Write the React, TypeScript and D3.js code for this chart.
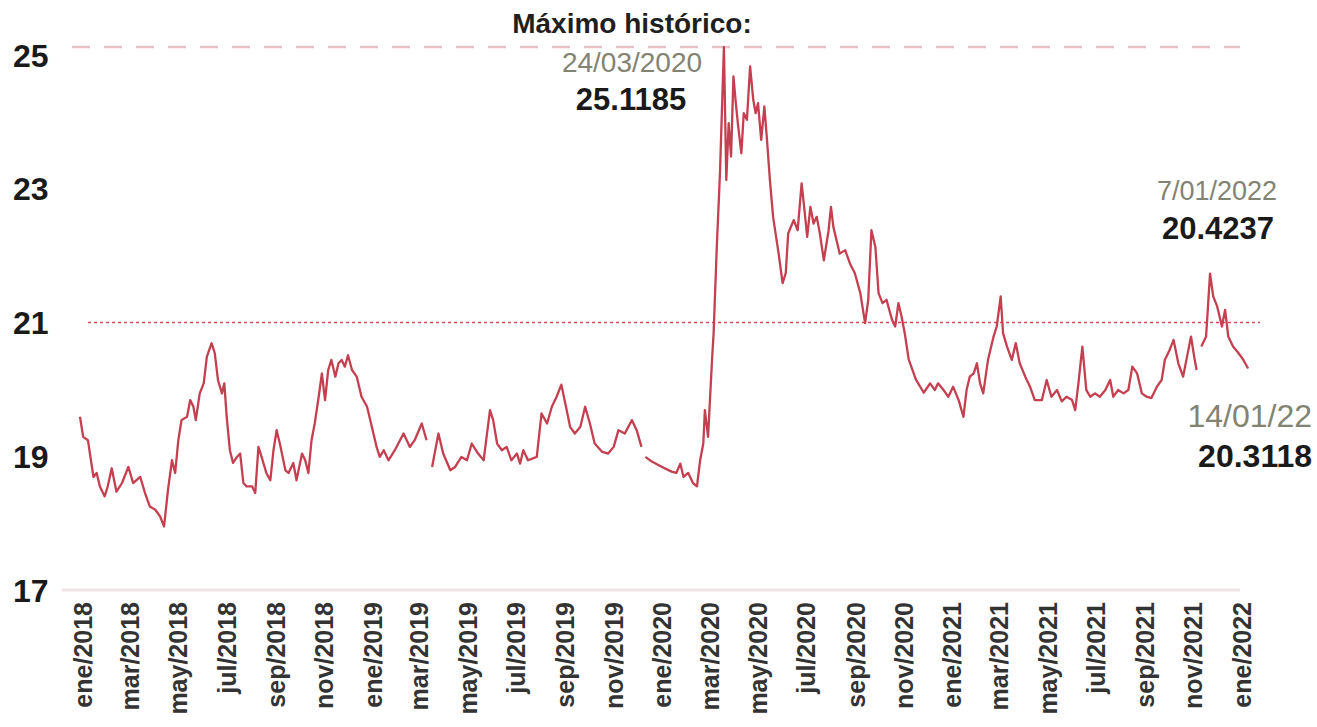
import React from "react";
import * as d3 from "d3";

// ---- DATA ----
const xTickLabels = [
  "ene/2018","mar/2018","may/2018","jul/2018","sep/2018","nov/2018",
  "ene/2019","mar/2019","may/2019","jul/2019","sep/2019","nov/2019",
  "ene/2020","mar/2020","may/2020","jul/2020","sep/2020","nov/2020",
  "ene/2021","mar/2021","may/2021","jul/2021","sep/2021","nov/2021",
  "ene/2022",
];
const yTicks = [17, 19, 21, 23, 25];
const maxValue = 25.1185;
const refValue = 21;

// USD/MXN (date, value); null = gap in the series
const fixSeries: [string, number | null][] = [
  ["2018-01-02",19.59],["2018-01-06",19.29],["2018-01-12",19.24],["2018-01-19",18.69],
  ["2018-01-23",18.75],["2018-01-27",18.55],["2018-02-02",18.40],["2018-02-06",18.55],
  ["2018-02-11",18.82],["2018-02-17",18.47],["2018-02-24",18.60],["2018-03-04",18.84],
  ["2018-03-10",18.60],["2018-03-19",18.69],["2018-03-25",18.45],["2018-03-31",18.25],
  ["2018-04-07",18.20],["2018-04-13",18.10],["2018-04-18",17.95],["2018-04-23",18.50],
  ["2018-04-28",18.94],["2018-05-02",18.75],["2018-05-06",19.24],["2018-05-10",19.54],
  ["2018-05-17",19.59],["2018-05-21",19.84],["2018-05-25",19.74],["2018-05-28",19.54],
  ["2018-06-02",19.94],["2018-06-07",20.09],["2018-06-11",20.49],["2018-06-17",20.69],
  ["2018-06-21",20.54],["2018-06-25",20.14],["2018-06-30",19.94],["2018-07-03",20.09],
  ["2018-07-06",19.59],["2018-07-10",19.09],["2018-07-14",18.90],["2018-07-19",18.99],
  ["2018-07-23",19.04],["2018-07-27",18.60],["2018-07-31",18.55],["2018-08-07",18.55],
  ["2018-08-11",18.45],["2018-08-15",19.14],["2018-08-19",18.99],["2018-08-25",18.75],
  ["2018-08-30",18.64],["2018-09-03",19.09],["2018-09-07",19.39],["2018-09-11",19.19],
  ["2018-09-18",18.79],["2018-09-22",18.75],["2018-09-28",18.90],["2018-10-02",18.64],
  ["2018-10-09",19.04],["2018-10-13",18.94],["2018-10-17",18.75],["2018-10-21",19.24],
  ["2018-10-25",19.49],["2018-10-30",19.89],["2018-11-03",20.24],["2018-11-07",19.84],
  ["2018-11-11",20.29],["2018-11-15",20.44],["2018-11-20",20.19],["2018-11-24",20.39],
  ["2018-11-28",20.44],["2018-12-02",20.34],["2018-12-06",20.51],["2018-12-11",20.29],
  ["2018-12-17",20.19],["2018-12-23",19.89],["2018-12-30",19.74],["2019-01-05",19.44],
  ["2019-01-11",19.14],["2019-01-15",18.99],["2019-01-20",19.09],["2019-01-26",18.94],
  ["2019-02-03",19.09],["2019-02-14",19.34],["2019-02-22",19.14],["2019-02-28",19.24],
  ["2019-03-09",19.49],["2019-03-15",19.24],["2019-03-16",null],
  ["2019-03-22",18.84],["2019-03-30",19.34],["2019-04-05",19.04],["2019-04-14",18.79],
  ["2019-04-20",18.84],["2019-04-28",18.99],["2019-05-05",18.94],["2019-05-11",19.19],
  ["2019-05-19",19.04],["2019-05-26",18.94],["2019-06-03",19.69],["2019-06-07",19.54],
  ["2019-06-12",19.19],["2019-06-18",19.09],["2019-06-24",19.14],["2019-06-30",18.94],
  ["2019-07-07",19.04],["2019-07-11",18.89],["2019-07-15",19.09],["2019-07-21",18.94],
  ["2019-08-01",18.99],["2019-08-07",19.64],["2019-08-14",19.49],["2019-08-20",19.74],
  ["2019-08-26",19.89],["2019-09-01",20.07],["2019-09-06",19.79],["2019-09-12",19.44],
  ["2019-09-18",19.34],["2019-09-25",19.44],["2019-10-01",19.74],["2019-10-07",19.49],
  ["2019-10-13",19.19],["2019-10-22",19.07],["2019-10-30",19.04],["2019-11-06",19.14],
  ["2019-11-12",19.39],["2019-11-20",19.34],["2019-11-29",19.54],["2019-12-05",19.39],
  ["2019-12-11",19.14],["2019-12-12",null],
  ["2019-12-16",18.99],["2019-12-24",18.92],["2020-01-06",18.84],["2020-01-18",18.77],
  ["2020-01-24",18.75],["2020-01-29",18.89],["2020-02-02",18.69],["2020-02-08",18.75],
  ["2020-02-14",18.60],["2020-02-19",18.55],["2020-02-23",18.94],["2020-02-27",19.19],
  ["2020-02-29",19.69],["2020-03-04",19.29],["2020-03-09",20.44],["2020-03-11",20.84],
  ["2020-03-15",22.13],["2020-03-19",23.23],["2020-03-24",25.1185],["2020-03-27",23.13],
  ["2020-03-30",23.98],["2020-04-02",23.48],["2020-04-05",24.68],["2020-04-08",24.28],
  ["2020-04-11",23.93],["2020-04-15",23.53],["2020-04-18",24.13],["2020-04-22",24.03],
  ["2020-04-26",24.83],["2020-04-30",24.33],["2020-05-03",24.13],["2020-05-06",24.28],
  ["2020-05-10",23.73],["2020-05-14",24.23],["2020-05-17",23.78],["2020-05-21",23.13],
  ["2020-05-25",22.58],["2020-06-01",22.03],["2020-06-06",21.59],["2020-06-10",21.74],
  ["2020-06-13",22.33],["2020-06-20",22.53],["2020-06-25",22.38],["2020-06-30",23.08],
  ["2020-07-04",22.63],["2020-07-07",22.28],["2020-07-11",22.73],["2020-07-15",22.48],
  ["2020-07-19",22.58],["2020-07-23",22.33],["2020-07-28",21.93],["2020-08-03",22.38],
  ["2020-08-06",22.73],["2020-08-09",22.43],["2020-08-13",22.23],["2020-08-17",22.03],
  ["2020-08-24",22.08],["2020-08-30",21.88],["2020-09-05",21.74],["2020-09-12",21.44],
  ["2020-09-18",20.99],["2020-09-22",21.34],["2020-09-26",22.38],["2020-10-01",22.13],
  ["2020-10-05",21.44],["2020-10-10",21.29],["2020-10-15",21.34],["2020-10-22",21.04],
  ["2020-10-26",20.94],["2020-10-30",21.29],["2020-11-03",21.09],["2020-11-07",20.84],
  ["2020-11-12",20.45],["2020-11-21",20.15],["2020-12-01",19.95],["2020-12-09",20.09],
  ["2020-12-15",19.99],["2020-12-19",20.09],["2020-12-26",19.99],["2021-01-01",19.89],
  ["2021-01-07",20.04],["2021-01-14",19.84],["2021-01-20",19.59],["2021-01-24",19.99],
  ["2021-01-28",20.19],["2021-02-02",20.24],["2021-02-06",20.39],["2021-02-10",20.09],
  ["2021-02-14",19.94],["2021-02-20",20.44],["2021-02-27",20.79],["2021-03-03",20.94],
  ["2021-03-08",21.39],["2021-03-11",20.84],["2021-03-16",20.64],["2021-03-22",20.44],
  ["2021-03-27",20.69],["2021-04-01",20.39],["2021-04-08",20.19],["2021-04-14",20.04],
  ["2021-04-20",19.84],["2021-04-29",19.84],["2021-05-05",20.14],["2021-05-11",19.89],
  ["2021-05-18",19.99],["2021-05-24",19.82],["2021-05-30",19.89],["2021-06-06",19.84],
  ["2021-06-10",19.69],["2021-06-14",20.09],["2021-06-19",20.64],["2021-06-24",19.99],
  ["2021-06-29",19.89],["2021-07-05",19.94],["2021-07-11",19.89],["2021-07-18",19.99],
  ["2021-07-24",20.14],["2021-07-28",19.89],["2021-08-03",19.99],["2021-08-10",19.94],
  ["2021-08-16",19.99],["2021-08-21",20.34],["2021-08-27",20.24],["2021-09-02",19.94],
  ["2021-09-08",19.89],["2021-09-14",19.87],["2021-09-21",20.04],["2021-09-27",20.14],
  ["2021-10-01",20.44],["2021-10-07",20.59],["2021-10-12",20.74],["2021-10-18",20.39],
  ["2021-10-24",20.19],["2021-10-29",20.49],["2021-11-03",20.79],["2021-11-07",20.49],
  ["2021-11-10",20.29],["2021-11-11",null],
  ["2021-11-16",20.64],["2021-11-22",20.79],["2021-11-27",21.73],["2021-12-01",21.39],
  ["2021-12-06",21.24],["2021-12-12",20.94],["2021-12-16",21.19],["2021-12-20",20.79],
  ["2021-12-26",20.64],["2022-01-02",20.54],["2022-01-08",20.44],["2022-01-14",20.3118],
];

const monthIndex: Record<string, number> = {
  ene: 0, feb: 1, mar: 2, abr: 3, may: 4, jun: 5, jul: 6, ago: 7, sep: 8, oct: 9, nov: 10, dic: 11,
};

const W = 1317;
const H = 727;
const FONT = "'Liberation Sans', Arial, sans-serif";

type Pt = { date: Date; value: number | null };

export default function App() {
  const parse = d3.timeParse("%Y-%m-%d");
  const points: Pt[] = fixSeries.map(([d, v]) => ({ date: parse(d) as Date, value: v }));

  const x = d3
    .scaleTime()
    .domain([new Date(2018, 0, 1), new Date(2022, 0, 1)])
    .range([79.2, 1237.8]);
  const y = d3.scaleLinear().domain([17, 25]).range([590, 55]);

  const line = d3
    .line<Pt>()
    .defined((d) => d.value !== null)
    .x((d) => x(d.date))
    .y((d) => y(d.value as number))
    .curve(d3.curveLinear);

  const ticks = xTickLabels.map((lab) => {
    const [m, yr] = lab.split("/");
    return { label: lab, date: new Date(+yr, monthIndex[m], 1) };
  });

  return (
    <svg width={W} height={H} style={{ display: "block", position: "absolute", left: 0, top: 0, background: "#fff" }}>
      <rect x={0} y={0} width={W} height={H} fill="#fff" />
      {/* baseline axis */}
      <line x1={62} x2={1240} y1={y(17)} y2={y(17)} stroke="#f1e4e6" strokeWidth={3} />
      {/* max dashed line */}
      <line x1={72} x2={1240} y1={y(maxValue)} y2={y(maxValue)} stroke="#e7c3c9" strokeWidth={2.5} strokeDasharray="18 14" />
      {/* reference dotted line at 21 */}
      <line x1={88} x2={1260} y1={y(refValue)} y2={y(refValue)} stroke="#d54a5a" strokeWidth={1.3} strokeDasharray="3 3" />

      {/* y tick labels */}
      {yTicks.map((t) => (
        <text key={t} x={13} y={y(t)} dy="0.36em" fontFamily={FONT} fontWeight="bold" fontSize={32} fill="#1a1a1a">
          {t}
        </text>
      ))}

      {/* x tick labels */}
      {ticks.map((t) => (
        <text
          key={t.label}
          transform={`translate(${x(t.date) + 4},602) rotate(-90)`}
          textAnchor="end"
          dy="0.36em"
          fontFamily={FONT}
          fontWeight="bold"
          fontSize={25}
          fill="#333"
        >
          {t.label}
        </text>
      ))}

      {/* series */}
      <path d={line(points) || ""} fill="none" stroke="#c43f50" strokeWidth={2.3} strokeLinejoin="round" />

      {/* annotations */}
      <text x={632} y={33} textAnchor="middle" fontFamily={FONT} fontWeight="bold" fontSize={28} fill="#1f1f1f">
        Máximo histórico:
      </text>
      <text x={632} y={72} textAnchor="middle" fontFamily={FONT} fontSize={28} fill="#838374">
        24/03/2020
      </text>
      <text x={631} y={110} textAnchor="middle" fontFamily={FONT} fontWeight="bold" fontSize={31} fill="#1a1a1a">
        25.1185
      </text>

      <text x={1217} y={200} textAnchor="middle" fontFamily={FONT} fontSize={27} fill="#838374">
        7/01/2022
      </text>
      <text x={1218} y={239} textAnchor="middle" fontFamily={FONT} fontWeight="bold" fontSize={31} fill="#1a1a1a">
        20.4237
      </text>

      <text x={1312} y={427} textAnchor="end" fontFamily={FONT} fontSize={32} fill="#838374">
        14/01/22
      </text>
      <text x={1312} y={467} textAnchor="end" fontFamily={FONT} fontWeight="bold" fontSize={32} fill="#1a1a1a">
        20.3118
      </text>
    </svg>
  );
}
